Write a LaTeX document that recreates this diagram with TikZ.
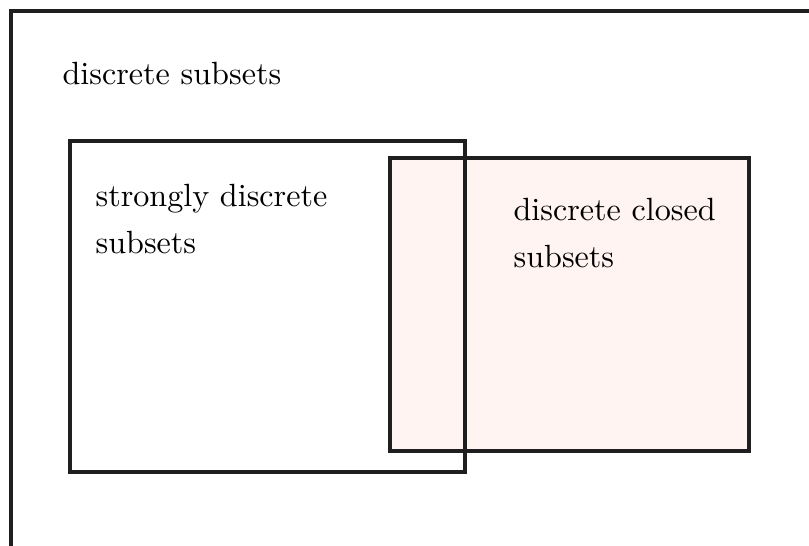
\documentclass[tikz,border=0pt]{standalone}
\usetikzlibrary{positioning}
\definecolor{closedpink}{RGB}{255,244,242}
\tikzset{setbox/.style={line width=1.5pt,draw=black!88},
  setlabel/.style={anchor=north west,align=left,inner sep=0pt,
    font=\fontsize{10.8}{15.6}\selectfont}}
\begin{document}
\begin{tikzpicture}[x=0.336pt,y=-0.336pt]
\useasboundingbox (0,0) rectangle (809,545);
\clip (0,0) rectangle (809,545);
\draw[setbox] (11,560) -- (11,11) -- (830,11);
\fill[closedpink] (390,158) rectangle (749,451);
\draw[setbox] (70,141) rectangle (465,472);
\draw[setbox] (390,158) rectangle (749,451);
\node[setlabel] (all) at (62,62) {discrete subsets};
\node[setlabel] (strong) at (95,184) {strongly discrete\\subsets};
\node[setlabel] (closed) at (513,198) {discrete closed\\subsets};
\end{tikzpicture}
\end{document}
